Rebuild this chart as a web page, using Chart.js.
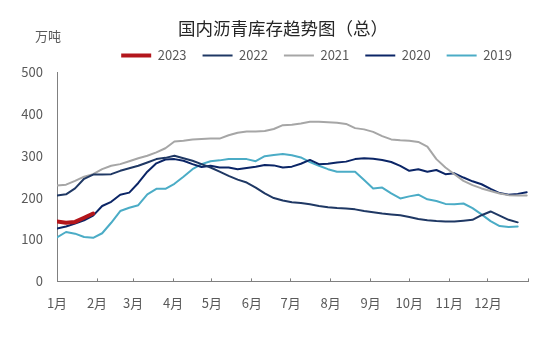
<!DOCTYPE html>
<html>
<head>
<meta charset="utf-8">
<script src="https://cdn.jsdelivr.net/npm/chart.js@4/dist/chart.umd.min.js"></script>
<style>
  html, body { margin: 0; padding: 0; background: #fff; }
</style>
</head>
<body>
<canvas id="myChart" width="554" height="347"></canvas>
<script>
// month ticks (day of year where each month starts)
const monthLabels = ['1月', '2月', '3月', '4月', '5月', '6月', '7月', '8月', '9月', '10月', '11月', '12月'];
const monthStartDays = [0, 31, 59, 90, 120, 151, 181, 212, 243, 273, 304, 334, 365];

// weekly inventory, 万吨
const inv2023 = [143, 140, 142, 152, 162];
const inv2022 = [205, 208, 222, 245, 255, 255, 256, 264, 270, 276, 284, 292, 295,
  300, 294, 288, 280, 272, 262, 252, 243, 236, 224, 210, 199, 193,
  189, 187, 184, 180, 177, 175, 174, 172, 168, 165, 162, 160, 158,
  154, 149, 146, 144, 143, 143, 145, 147, 158, 167, 157, 147, 141];
const inv2021 = [229, 231, 240, 250, 256, 268, 276, 280, 287, 294, 300, 308, 318,
  334, 336, 339, 340, 341, 341, 349, 355, 358, 358, 359, 364, 373,
  374, 377, 381, 381, 380, 379, 376, 366, 363, 357, 347, 339, 337,
  336, 333, 322, 292, 272, 256, 240, 230, 222, 216, 210, 206, 205, 205];
const inv2020 = [126, 131, 138, 146, 157, 180, 190, 207, 212, 235, 262, 282, 291,
  292, 288, 280, 273, 276, 272, 272, 268, 271, 274, 278, 277, 272,
  274, 281, 290, 280, 281, 284, 286, 292, 294, 293, 290, 285, 276,
  264, 268, 262, 266, 256, 258, 248, 239, 232, 221, 211, 207, 209, 213];
const inv2019 = [105, 118, 114, 106, 104, 115, 140, 168, 176, 182, 208, 221, 221,
  233, 250, 268, 280, 287, 289, 292, 292, 292, 287, 299, 302, 304,
  301, 296, 285, 276, 268, 262, 262, 262, 242, 222, 224, 210, 198,
  203, 207, 196, 192, 185, 184, 186, 175, 160, 144, 132, 130, 131];

const toPoints = arr => arr.map((v, i) => ({x: i, y: v}));

function line(label, arr, color, width) {
  return {
    label: label,
    data: toPoints(arr),
    borderColor: color,
    backgroundColor: color,
    borderWidth: width,
    pointRadius: 0,
    tension: 0,
    borderCapStyle: 'round',
    borderJoinStyle: 'round'
  };
}

Chart.defaults.font.family = "'Noto Sans CJK SC', 'Noto Sans', sans-serif";
Chart.defaults.color = '#595959';

// unit label above the y axis
const unitLabel = {
  id: 'unitLabel',
  afterDraw(chart) {
    const c = chart.ctx;
    c.save();
    c.font = "13px 'Noto Sans CJK SC', sans-serif";
    c.fillStyle = '#595959';
    c.textAlign = 'center';
    c.textBaseline = 'middle';
    c.fillText('万吨', chart.chartArea.left - 9, chart.chartArea.top - 36);
    c.restore();
  }
};

const ctx = document.getElementById('myChart');

const myChart = new Chart(ctx, {
  type: 'line',
  data: {
    datasets: [
      line('2023', inv2023, '#B3161C', 4),
      line('2022', inv2022, '#1F3864', 2),
      line('2021', inv2021, '#A6A6A6', 2),
      line('2020', inv2020, '#0B2566', 2),
      line('2019', inv2019, '#4BACC6', 2)
    ]
  },
  options: {
    responsive: false,
    animation: false,
    devicePixelRatio: 1,
    layout: { padding: { left: 18, right: 6, top: 0, bottom: 19 } },
    plugins: {
      title: {
        display: true,
        text: '国内沥青库存趋势图（总）',
        color: '#262626',
        font: { size: 17.5, weight: 'normal' },
        padding: { top: 18, bottom: -6 }
      },
      legend: {
        display: true,
        align: 'end',
        fullSize: false,
        labels: {
          usePointStyle: true,
          pointStyle: 'line',
          pointStyleWidth: 30,
          padding: 16,
          color: '#595959',
          font: { size: 13 }
        }
      },
      tooltip: { enabled: false }
    },
    scales: {
      x: {
        type: 'linear',
        min: 0,
        max: 365 / 7,
        afterBuildTicks: scale => {
          scale.ticks = monthStartDays.map(d => ({ value: d / 7 }));
        },
        ticks: {
          autoSkip: false,
          maxRotation: 0,
          padding: 17,
          color: '#595959',
          font: { size: 13 },
          callback: (value, index) => monthLabels[index] || ''
        },
        grid: {
          display: true,
          drawOnChartArea: false,
          drawTicks: true,
          tickLength: -3,
          color: '#808080'
        },
        border: { display: true, color: '#808080', width: 1 }
      },
      y: {
        min: 0,
        max: 500,
        afterFit: scale => { scale.width = 39; },
        ticks: {
          stepSize: 100,
          padding: 14,
          color: '#595959',
          font: { size: 13 }
        },
        grid: { display: false, drawTicks: false },
        border: { display: true, color: '#808080', width: 1 }
      },
      // empty right margin so the title sits where it does in the original
      yRight: {
        position: 'right',
        afterFit: scale => { scale.width = 20; },
        ticks: { display: false },
        grid: { display: false, drawTicks: false },
        border: { display: false }
      }
    }
  },
  plugins: [unitLabel]
});
</script>
</body>
</html>
